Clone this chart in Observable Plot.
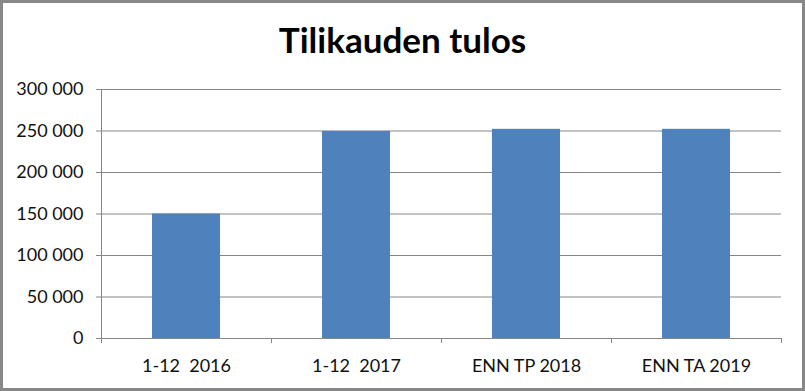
<!DOCTYPE html>
<html>
<head>
<meta charset="utf-8">
<script src="https://cdn.jsdelivr.net/npm/d3@7"></script>
<script src="https://cdn.jsdelivr.net/npm/@observablehq/plot@0.6"></script>
<style>
  html, body { margin: 0; padding: 0; background: #fff; }
  #wrap { position: relative; width: 805px; height: 391px; overflow: hidden; background: #fff; }
  #border { position: absolute; left: 0; top: 0; width: 805px; height: 391px; box-sizing: border-box; border: 3px solid #878787; pointer-events: none; }
  #title { position: absolute; left: 0; top: 22px; width: 805px; text-align: center; font-family: Lato, sans-serif; font-weight: bold; font-size: 35px; line-height: 1; color: #000; }
  #chart { position: absolute; left: 0; top: 0; }
  svg text { white-space: pre; }
</style>
</head>
<body>
<div id="wrap">
  <div id="chart"></div>
  <div id="title">Tilikauden tulos</div>
  <div id="border"></div>
</div>
<script>
const categories = ["1-12  2016", "1-12  2017", "ENN TP 2018", "ENN TA 2019"];
const values = [150000, 249500, 252000, 252000];
const yTicks = [0, 50000, 100000, 150000, 200000, 250000, 300000];

const data = categories.map((c, i) => ({category: c, value: values[i]}));
const fmt = d => d3.format(",")(d).replace(/,/g, " ");

const W = 805, H = 391;
const mL = 101, mR = 24, mT = 89, mB = 53;
const step = (W - mL - mR) / categories.length;
const gray = "#868686";

const chart = Plot.plot({
  width: W,
  height: H,
  marginLeft: mL,
  marginRight: mR,
  marginTop: mT,
  marginBottom: mB,
  style: {fontFamily: "Lato, sans-serif", fontSize: "18px", color: "#111", background: "transparent"},
  x: {domain: categories, paddingInner: 0.6, paddingOuter: 0.3, axis: null, label: null},
  y: {domain: [0, 300000], axis: null, label: null},
  marks: [
    Plot.gridY(yTicks, {stroke: gray, strokeOpacity: 1, strokeWidth: 1}),
    Plot.barY(data, {x: "category", y: "value", fill: "#4F81BD"}),
    Plot.frame({anchor: "left", stroke: gray}),
    Plot.axisY(yTicks, {label: null, tickSize: 5, tickPadding: 13, tickFormat: fmt, stroke: gray, fill: "#111", fontSize: 18}),
    Plot.axisX(categories, {label: null, tickSize: 5, dx: -step / 2, tickFormat: () => "", stroke: gray}),
    Plot.axisX([categories[categories.length - 1]], {label: null, tickSize: 5, dx: step / 2, tickFormat: () => "", stroke: gray}),
    Plot.axisX(categories, {label: null, tickSize: 0, tickPadding: 21, fill: "#111", fontSize: 18})
  ]
});
document.getElementById("chart").appendChild(chart);
</script>
</body>
</html>
